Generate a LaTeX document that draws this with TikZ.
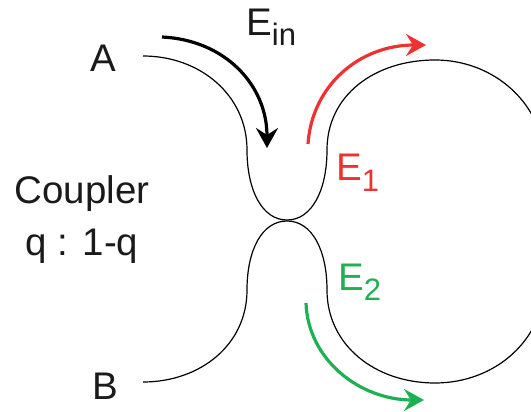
\documentclass[tikz,border=0pt]{standalone}
\usepackage{fontspec}
\setmainfont{Liberation Sans}
\usetikzlibrary{arrows.meta}
\definecolor{myred}{HTML}{EE3231}
\definecolor{mygreen}{HTML}{1FB052}
\definecolor{mytext}{HTML}{1A1A1A}
\newcommand{\lab}[2]{#1\raisebox{-10pt}{\fontsize{31}{31}\selectfont #2}}
\tikzset{
  fibre/.style={line width=1.2pt,black},
  flow/.style={line width=3.2pt,-{Stealth[length=20pt,width=22pt,inset=7pt]}},
  lbl/.style={font=\fontsize{38.5}{38.5}\selectfont,inner sep=0pt,text=mytext,anchor=base},
  lblw/.style={font=\fontsize{38.5}{38.5}\selectfont,inner sep=0pt,anchor=base west}
}
\begin{document}
\begin{tikzpicture}[x=1pt,y=-1pt]
\path[use as bounding box] (0,0) rectangle (531,412);
\begin{scope}
\clip (0,0) rectangle (531,412);
\draw[fibre] (143,56) .. controls (200,56) and (247,95) .. (247,150)
  .. controls (247,190) and (262,220) .. (287,220)
  .. controls (312,220) and (327,190) .. (327,150)
  .. controls (327,95) and (375,60) .. (435,60)
  .. controls (495,60) and (545,105) .. (545,165);
\draw[fibre] (143,382) .. controls (200,382) and (247,345) .. (247,290)
  .. controls (247,250) and (262,221) .. (287,221)
  .. controls (312,221) and (327,250) .. (327,290)
  .. controls (327,345) and (375,383) .. (435,383)
  .. controls (495,383) and (545,340) .. (545,280);
\end{scope}
\coordinate (inS) at (162,37);
\coordinate (inT) at (267,148);
\coordinate (oneS) at (308,144);
\coordinate (oneT) at (426,45);
\coordinate (twoS) at (306,303);
\coordinate (twoT) at (424,400);
\draw[flow,black] (inS) .. controls (225,40) and (267,85) .. (inT);
\draw[flow,myred] (oneS) .. controls (312,85) and (360,45) .. (oneT);
\draw[flow,mygreen] (twoS) .. controls (308,360) and (360,400) .. (twoT);
\node[lbl] (a) at (103,72) {A};
\node[lbl] (b) at (105,399) {B};
\node[lblw,text=mytext] (ein) at (246,36) {\lab{E}{in}};
\node[lblw,text=myred] (e1) at (336,181) {\lab{E}{1}};
\node[lblw,text=mygreen] (e2) at (338,290) {\lab{E}{2}};
\node[lbl] (c1) at (82,204) {Coupler};
\node[lbl] (c2) at (82,255) {q : 1-q};
\end{tikzpicture}
\end{document}
